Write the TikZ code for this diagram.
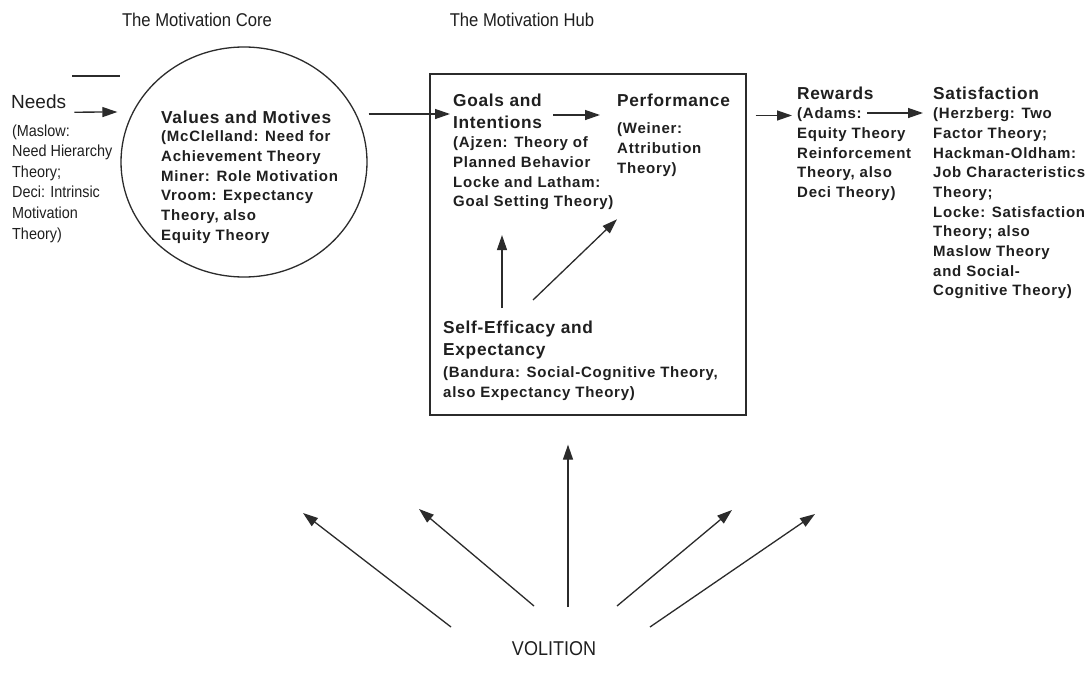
\documentclass[tikz,border=0pt]{standalone}
\usepackage{fontspec}
\setmainfont{Liberation Sans}
\newfontfamily\plainfont{Liberation Sans}[FakeStretch=0.9]
\newfontfamily\spacedfont{Liberation Sans}[LetterSpace=5]
\newfontfamily\headingfont{Liberation Sans}[LetterSpace=4]
\usetikzlibrary{arrows.meta,shapes.geometric,calc}
\definecolor{inkgray}{gray}{0.12}
\definecolor{linegray}{gray}{0.17}
% struts that fix the height of the first line of each text block
\newcommand\bodystrut{\rule{0pt}{12pt}}
\newcommand\plainstrut{\rule{0pt}{13pt}}
\newcommand\headstrut{\rule{0pt}{13.6pt}}
\tikzset{
  ink/.style={draw=linegray,line width=1.3pt},
  arr/.style={ink,-{Triangle[length=15pt,width=10pt]}},
  head/.style={font=\headingfont\bfseries\fontsize{17.3}{22}\selectfont,
    inner sep=0pt,anchor=north west,align=left,text=inkgray},
  body/.style={font=\spacedfont\bfseries\fontsize{15}{19.7}\selectfont,
    inner sep=0pt,anchor=north west,align=left,text=inkgray},
  plainbody/.style={font=\plainfont\fontsize{16}{20.6}\selectfont,
    inner sep=0pt,anchor=north west,align=left,text=inkgray},
  title/.style={font=\plainfont\fontsize{18.5}{20}\selectfont,inner sep=0pt,text=inkgray},
}
\begin{document}
\begin{tikzpicture}[x=1pt,y=-1pt]
\fill[white] (0,0) rectangle (1088,680);
\useasboundingbox (0,0) rectangle (1088,680);

% section titles
\node[title] (coretitle) at (197,20) {The Motivation Core};
\node[title] (hubtitle) at (522,20) {The Motivation Hub};

% needs
\node[inner sep=0pt,anchor=base west,text=inkgray,font=\fontsize{19}{21}\selectfont] (needs) at (11,108.8) {Needs};
\node[plainbody] (needsbody) at (12,122.8) {\plainstrut(Maslow:\\Need Hierarchy\\Theory;\\Deci: Intrinsic\\Motivation\\Theory)};
\coordinate (barL) at (72,76);
\coordinate (barR) at (120,76);
\draw[ink] (barL) -- (barR);

% the motivation core
\node[ink,ellipse,minimum width=246pt,minimum height=230pt,inner sep=0pt] (core) at (244,162) {};
\node[head] (values) at (161,109.5) {\headstrut Values and Motives};
\node[body] (valuesbody) at (161,129.4) {\bodystrut(McClelland: Need for\\Achievement Theory\\Miner: Role Motivation\\Vroom: Expectancy\\Theory, also\\Equity Theory};

% the motivation hub
\node[ink,rectangle,minimum width=316pt,minimum height=341pt,inner sep=0pt] (hub) at (588,244.5) {};
\node[head] (goals) at (453,92.5) {\headstrut Goals and\\Intentions};
\node[body] (goalsbody) at (453,135.4) {\bodystrut(Ajzen: Theory of\\Planned Behavior\\Locke and Latham:\\Goal Setting Theory)};
\node[head] (perf) at (617,92.5) {\headstrut Performance};
\node[body] (perfbody) at (617,121.4) {\bodystrut(Weiner:\\Attribution\\Theory)};
\node[head] (selfeff) at (443,319.5) {\headstrut Self-Efficacy and\\Expectancy};
\node[body] (selfbody) at (443,365.4) {\bodystrut(Bandura: Social-Cognitive Theory,\\also Expectancy Theory)};

% outcomes
\node[head] (rewards) at (797,85.5) {\headstrut Rewards};
\node[body] (rewardsbody) at (797,106.4) {\bodystrut(Adams:\\Equity Theory\\Reinforcement\\Theory, also\\Deci Theory)};
\node[head] (satisf) at (933,85.5) {\headstrut Satisfaction};
\node[body] (satisfbody) at (933,106.4) {\bodystrut(Herzberg: Two\\Factor Theory;\\Hackman-Oldham:\\Job Characteristics\\Theory;\\Locke: Satisfaction\\Theory; also\\Maslow Theory\\and Social-\\Cognitive Theory)};

% volition
\node[title,font=\plainfont\fontsize{20}{22}\selectfont] (volition) at (554,649) {VOLITION};

% main chain
\draw[arr] ($(needs.south east)+(8,3)$) -- ($(core.west)+(-3,-50)$);
\draw[arr] ($(core.east)+(1,-48)$) -- ($(goals.north west)+(-3,21.5)$);
\draw[arr] ($(goals.north east)+(11,22.5)$) -- ($(perf.north west)+(-17,22.5)$);
\draw[arr] ($(hub.east)+(9,-129)$) -- ($(rewards.north west)+(-5,30)$);
\draw[arr] ($(satisf.north west)+(-66,27.5)$) -- ($(satisf.north west)+(-10,27.5)$);

% self-efficacy feeding goals and performance
\draw[arr] ($(selfeff.north west)+(59,-11.5)$) -- ($(goalsbody.south west)+(49,25)$);
\draw[arr] ($(selfeff.north west)+(90,-19.5)$) -- ($(perfbody.south west)+(0,43)$);

% volition fan
\coordinate (vh1) at (303,513);
\coordinate (vh2) at (419,509);
\coordinate (vh4) at (732,510);
\coordinate (vh5) at (815,514);
\draw[arr] ($(volition)+(-103,-22)$) -- (vh1);
\draw[arr] ($(volition)+(-20,-43)$) -- (vh2);
\draw[arr] ($(volition)+(14,-42)$) -- ($(hub.south)+(-20,29)$);
\draw[arr] ($(volition)+(63,-43)$) -- (vh4);
\draw[arr] ($(volition)+(96,-22)$) -- (vh5);
\end{tikzpicture}
\end{document}
